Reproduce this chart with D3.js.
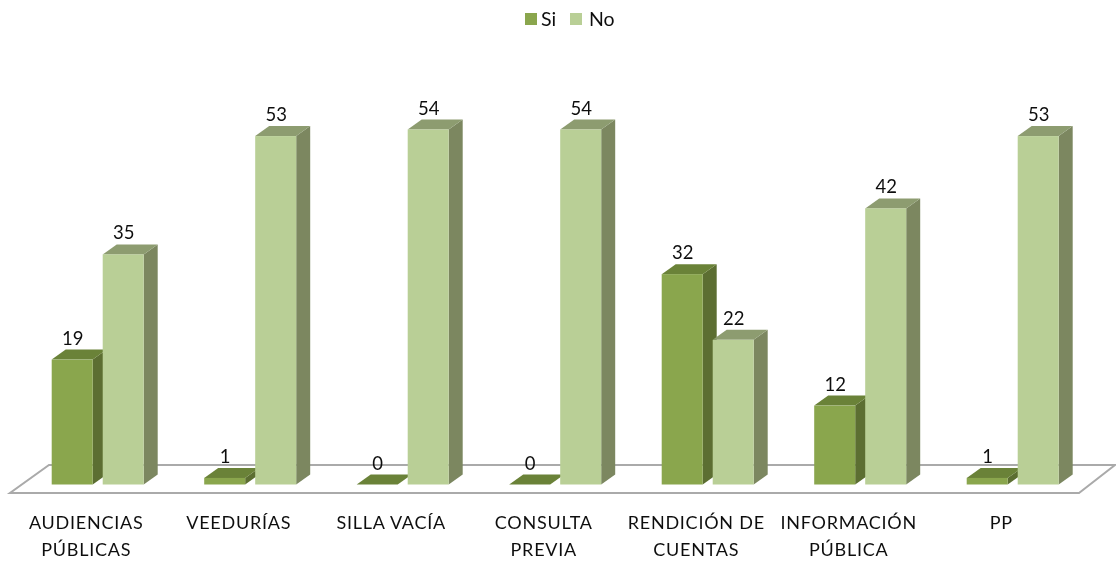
<!DOCTYPE html>
<html><head><meta charset="utf-8">
<style>html,body{margin:0;padding:0;background:#fff}svg{display:block}text{font-family:Lato,"Open Sans",sans-serif;fill:#111}</style>
<script src="https://cdnjs.cloudflare.com/ajax/libs/d3/7.8.5/d3.min.js"></script>
</head><body><svg id="c" width="1116" height="561"></svg>
<script>
const categories=[["AUDIENCIAS","PÚBLICAS"],["VEEDURÍAS"],["SILLA VACÍA"],["CONSULTA","PREVIA"],["RENDICIÓN DE","CUENTAS"],["INFORMACIÓN","PÚBLICA"],["PP"]];
const seriesNames=["Si","No"];
const siValues=[19,1,0,0,32,12,1];
const noValues=[35,53,54,54,22,42,53];
const colours={Si:{front:"#8aa64e",side:"#5b6e30",top:"#6b8239"},No:{front:"#b9cf96",side:"#7b8760",top:"#8d9c70"}};

const svg=d3.select("#c");
const defs=svg.append("defs");
defs.append("filter").attr("id","soft").attr("x","-2%").attr("y","-2%").attr("width","104%").attr("height","104%")
  .append("feGaussianBlur").attr("stdDeviation",0.45);
const root=svg.append("g").attr("filter","url(#soft)");
root.append("rect").attr("width",1116).attr("height",561).attr("fill","#fff");

const depthX=14,depthY=10,barW=41;
const x=d3.scaleBand().domain(d3.range(categories.length)).range([10,1077.5]);
const x1=d3.scaleBand().domain(seriesNames).range([41.7,143.7]);
const y=d3.scaleLinear().domain([0,54]).range([484.5,129.5]);

// floor
root.append("polygon").attr("points","10,493 1079,493 1115,465 49,465")
  .attr("fill","#fff").attr("stroke","#aaaaaa").attr("stroke-width",2);

const rows=[];
categories.forEach((c,i)=>{rows.push({i,s:"Si",v:siValues[i]});rows.push({i,s:"No",v:noValues[i]});});
const g=root.selectAll("g.bar").data(rows).join("g").attr("class","bar");
const L=d=>x(d.i)+x1(d.s), R=d=>L(d)+barW, T=d=>y(d.v), B=()=>y(0);
g.append("polygon").attr("fill",d=>colours[d.s].side)
  .attr("points",d=>[[R(d),T(d)],[R(d)+depthX,T(d)-depthY],[R(d)+depthX,B()-depthY],[R(d),B()]].join(" "));
g.append("polygon").attr("fill",d=>colours[d.s].top)
  .attr("points",d=>[[L(d),T(d)],[L(d)+depthX,T(d)-depthY],[R(d)+depthX,T(d)-depthY],[R(d),T(d)]].join(" "));
g.append("rect").attr("fill",d=>colours[d.s].front)
  .attr("x",L).attr("y",T).attr("width",barW).attr("height",d=>B()-T(d));
g.append("text").attr("x",d=>L(d)+barW/2+0.5).attr("y",d=>T(d)-depthY-5)
  .attr("text-anchor","middle").attr("font-size",18.5).text(d=>d.v);

// category labels
const lab=root.selectAll("text.cat").data(categories).join("text").attr("class","cat")
  .attr("text-anchor","middle").attr("font-size",18).attr("letter-spacing",0.75);
lab.selectAll("tspan").data((d,i)=>d.map(t=>({t,i}))).join("tspan")
  .attr("x",d=>x(d.i)+x.bandwidth()/2).attr("y",(d,j)=>529+j*27).text(d=>d.t);

// legend
const legend=[{s:"Si",sx:525,tx:541},{s:"No",sx:570,tx:589}];
const lg=root.selectAll("g.lg").data(legend).join("g").attr("class","lg");
lg.append("rect").attr("x",d=>d.sx).attr("y",13).attr("width",12).attr("height",12).attr("fill",d=>colours[d.s].front);
lg.append("text").attr("x",d=>d.tx).attr("y",26).attr("font-size",19.5).text(d=>d.s);
</script></body></html>
